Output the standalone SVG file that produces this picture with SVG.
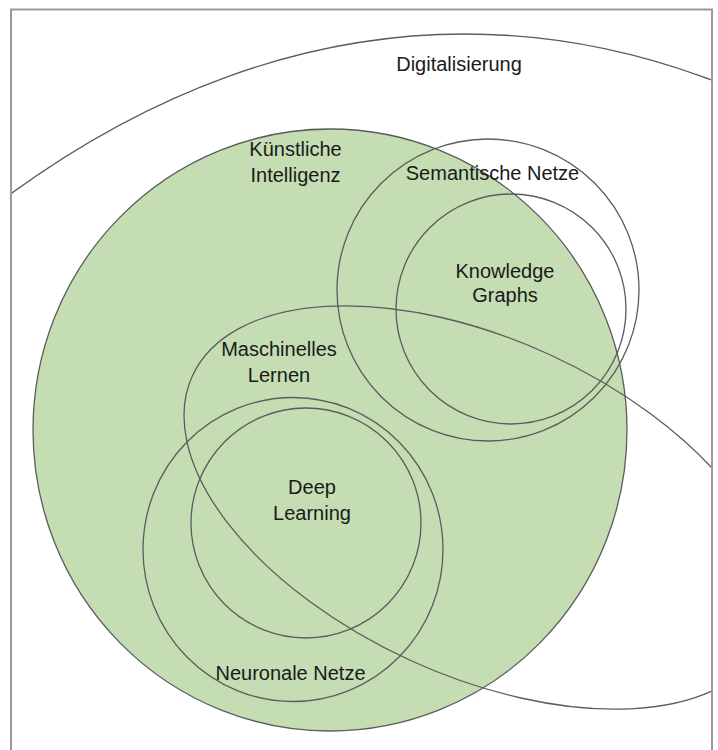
<svg xmlns="http://www.w3.org/2000/svg" width="718" height="750" viewBox="0 0 718 750">
<defs>
<clipPath id="frameClip"><rect x="11" y="9.5" width="701" height="745"/></clipPath>
<style>
.outline{fill:none;stroke:#5c5c5c;stroke-width:1.3}
.ki{fill:#c4ddb3;stroke:#5c5c5c;stroke-width:1.3}
.lbl{font-family:"Liberation Sans",Arial,sans-serif;font-size:20px;fill:#1a1a1a;text-anchor:middle}
.frame{fill:none;stroke:#9a9a9a;stroke-width:2}
</style>
</defs>
<rect width="718" height="750" fill="#ffffff"/>
<g clip-path="url(#frameClip)">
  <g id="kuenstliche-intelligenz">
    <ellipse class="ki" cx="330" cy="430" rx="297" ry="301"/>
  </g>
  <g id="digitalisierung">
    <ellipse class="outline" cx="465" cy="2569" rx="1300" ry="2535"/>
    <text class="lbl" x="459" y="71">Digitalisierung</text>
  </g>
  <g id="ki-label">
    <text class="lbl" x="295.5" y="156">Künstliche</text>
    <text class="lbl" x="295.5" y="182">Intelligenz</text>
  </g>
  <g id="semantische-netze">
    <circle class="outline" cx="488" cy="290" r="151"/>
    <text class="lbl" x="492.5" y="180">Semantische Netze</text>
  </g>
  <g id="knowledge-graphs">
    <circle class="outline" cx="511" cy="309" r="115"/>
    <text class="lbl" x="505" y="278">Knowledge</text>
    <text class="lbl" x="505" y="302">Graphs</text>
  </g>
  <g id="maschinelles-lernen">
    <ellipse class="outline" cx="480" cy="507.5" rx="316.3" ry="168" transform="rotate(24.6 480 507.5)"/>
    <text class="lbl" x="279" y="356">Maschinelles</text>
    <text class="lbl" x="279" y="382">Lernen</text>
  </g>
  <g id="neuronale-netze">
    <ellipse class="outline" cx="293" cy="549.5" rx="150" ry="152"/>
    <text class="lbl" x="290.5" y="680">Neuronale Netze</text>
  </g>
  <g id="deep-learning">
    <circle class="outline" cx="306" cy="523" r="115"/>
    <text class="lbl" x="312" y="494">Deep</text>
    <text class="lbl" x="312" y="520">Learning</text>
  </g>
</g>
<g id="rahmen">
  <path class="frame" d="M11,760 V9.5 H712 V760"/>
</g>
</svg>
